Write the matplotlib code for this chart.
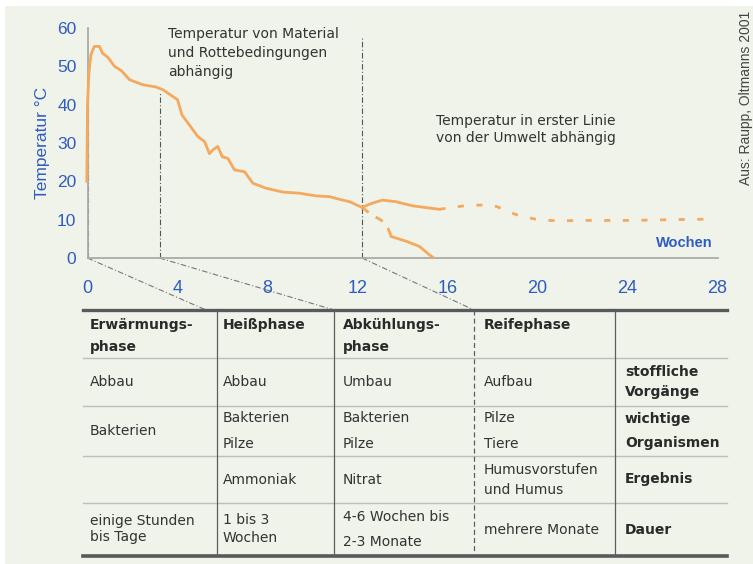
import matplotlib
matplotlib.use("Agg")
import matplotlib.pyplot as plt
from matplotlib.patches import Rectangle

# ---------------- data ----------------
main_x = [-0.03, 0.0, 0.06, 0.15, 0.3, 0.53, 0.67, 0.9, 1.2, 1.5, 1.87, 2.46, 3.05, 3.35, 4.0,
          4.2, 4.53, 4.9, 5.2, 5.42, 5.57, 5.79, 5.99, 6.24, 6.53, 6.98, 7.35, 7.94, 8.68,
          9.42, 10.16, 10.76, 11.2, 11.64, 12.2]
main_y = [20, 40, 48, 53, 55.2, 55.2, 53.4, 52.4, 50, 48.9, 46.5, 45.2, 44.6, 43.9, 41.3,
          37.3, 34.7, 31.7, 30.4, 27.2, 28.2, 29.1, 26.4, 26, 23, 22.5, 19.5, 18.2, 17.2,
          16.9, 16.2, 16, 15.3, 14.7, 13.2]

upper_x = [12.2, 12.65, 13.1, 13.7, 14.46, 15.64]
upper_y = [13.2, 14.3, 15.1, 14.7, 13.6, 12.7]

upper_dash_x = [15.64, 16.2, 17.0, 17.7, 18.2, 18.6, 19.2, 20.1, 21, 22, 23, 24, 25, 26, 27, 27.9]
upper_dash_y = [12.7, 13.2, 13.8, 13.8, 13.4, 12.3, 11.0, 9.9, 9.7, 9.8, 9.8, 9.8, 9.9, 10.0, 10.1, 10.1]

lower_dash_x = [12.2, 12.65, 13.05, 13.35, 13.5]
lower_dash_y = [13.2, 11.2, 9.9, 7.8, 5.6]

lower_x = [13.5, 14.2, 14.76, 15.2, 15.4]
lower_y = [5.6, 4.3, 3.0, 0.8, 0.0]

phase_bounds = [0.0, 3.2, 12.2]
phase_tops = [47, 43.4, 58]

x_ticks = [0, 4, 8, 12, 16, 20, 24, 28]
y_ticks = [0, 10, 20, 30, 40, 50, 60]

note_left = "Temperatur von Material\nund Rottebedingungen\nabhängig"
note_right = "Temperatur in erster Linie\nvon der Umwelt abhängig"
source = "Aus: Raupp, Oltmanns 2001"

header = ["Erwärmungs-\nphase", "Heißphase", "Abkühlungs-\nphase", "Reifephase", ""]
rows = [
    ["Abbau", "Abbau", "Umbau", "Aufbau", "stoffliche\nVorgänge"],
    ["Bakterien", "Bakterien\nPilze", "Bakterien\nPilze", "Pilze\nTiere", "wichtige\nOrganismen"],
    ["", "Ammoniak", "Nitrat", "Humusvorstufen\nund Humus", "Ergebnis"],
    ["einige Stunden\nbis Tage", "1 bis 3\nWochen", "4-6 Wochen bis\n2-3 Monate", "mehrere Monate", "Dauer"],
]

# ---------------- layout (pixels) ----------------
W, H = 753, 564
col_edges = [83, 217, 334, 474, 615, 727]
row_edges = [310, 358, 406, 456, 503, 556]
col_pad = [7, 6, 9, 10, 10]
row_gaps = [
    [20, 20, 20, 20, 20],
    [25, 25, 25, 25, 25],
    [20, 20, 20, 20, 20],
    [16, 18, 25, 20, 20],
]
diag_ends = [206, 334, 474]

BG = "#F0F3EA"
ORANGE = "#F5A95E"
BLUE = "#2F5CBF"
TXT = "#333333"

fig = plt.figure(figsize=(W / 100, H / 100), dpi=100)
fig.patch.set_facecolor("white")

ov = fig.add_axes([0, 0, 1, 1])
ov.set_xlim(0, W)
ov.set_ylim(H, 0)
ov.axis("off")
ov.add_patch(Rectangle((5, 6), W - 5, H - 6, facecolor=BG, edgecolor="none", zorder=0))

ax = fig.add_axes([87.5 / W, (H - 258) / H, 630 / W, 230 / H])
ax.patch.set_alpha(0)
ax.set_xlim(0, 28)
ax.set_ylim(0, 60)
for s in ["top", "right"]:
    ax.spines[s].set_visible(False)
for s in ["left", "bottom"]:
    ax.spines[s].set_color("#A9ABA6")
    ax.spines[s].set_linewidth(1.3)

ax.set_xticks(x_ticks)
ax.set_xticklabels([str(v) for v in x_ticks])
ax.set_yticks(y_ticks)
ax.set_yticklabels([str(v) for v in y_ticks])
ax.tick_params(axis="x", length=0, pad=16, labelsize=13, labelcolor=BLUE)
ax.tick_params(axis="y", length=0, pad=8, labelsize=12.5, labelcolor=BLUE)
for lab in ax.get_xticklabels() + ax.get_yticklabels():
    lab.set_family(["Liberation Sans", "DejaVu Sans"])

ax.set_ylabel("Temperatur °C", color=BLUE, fontsize=12.5, family=["Liberation Sans", "DejaVu Sans"],
              labelpad=5)

# curves
lw = 2.0
ax.plot(main_x, main_y, color=ORANGE, lw=lw, clip_on=False, solid_joinstyle="round", zorder=3)
ax.plot(upper_x, upper_y, color=ORANGE, lw=lw, zorder=3)
ax.plot(upper_dash_x, upper_dash_y, color=ORANGE, lw=lw, dashes=(2.2, 4.5), zorder=3)
ax.plot(lower_dash_x, lower_dash_y, color=ORANGE, lw=lw, dashes=(3, 3), zorder=3)
ax.plot(lower_x, lower_y, color=ORANGE, lw=lw, zorder=3)

# phase boundary lines
for xb, top in zip(phase_bounds, phase_tops):
    ax.plot([xb, xb], [0, top], color="#555555", lw=0.8, ls=(0, (5, 2, 1, 2)), zorder=2, clip_on=False)

ax.text(3.58, 60.3, note_left, va="top", ha="left", fontsize=10, color=TXT, linespacing=1.45,
        family="DejaVu Sans")
ax.text(15.5, 37.6, note_right, va="top", ha="left", fontsize=10, color=TXT, linespacing=1.3,
        family="DejaVu Sans")
ax.text(27.8, 3.9, "Wochen", ha="right", va="center", fontsize=10.5, color=BLUE, fontweight="bold",
        family=["Liberation Sans", "DejaVu Sans"])

# source text
fig.text(746 / W, 1 - 98 / H, source, rotation=90, ha="center", va="center", fontsize=10,
         color="#444444", family=["Liberation Sans", "DejaVu Sans"])

# diagonal connectors from phase bounds to table
fig.canvas.draw()
for xb, xe in zip(phase_bounds, diag_ends):
    dx, dy = ax.transData.transform((xb, 0))
    px, py = dx, H - dy
    ov.plot([px, xe], [py, row_edges[0]], color="#777777", lw=0.8, ls=(0, (5, 2, 1, 2)), zorder=1)

# table lines
ov.plot([col_edges[0], col_edges[-1]], [row_edges[0]] * 2, color="#555a5a", lw=2.4, zorder=2)
ov.plot([col_edges[0], col_edges[-1]], [row_edges[-1]] * 2, color="#555a5a", lw=2.6, zorder=2)
for ry in row_edges[1:-1]:
    ov.plot([col_edges[0], col_edges[-1]], [ry, ry], color="#BDBFBA", lw=1.0, zorder=1)
for i, cx in enumerate(col_edges[1:-1]):
    ls = (0, (4, 2.5)) if i == 2 else "-"
    ov.plot([cx, cx], [row_edges[0], row_edges[-1]], color="#5a5f5f", lw=0.9, ls=ls, zorder=2)

# table text
for j, txt in enumerate(header):
    lines = txt.split("\n") if txt else []
    for k, line in enumerate(lines):
        ov.text(col_edges[j] + col_pad[j], 325 + k * 21.5, line, ha="left", va="center",
                fontsize=10, fontweight="bold", color="#2a2a2a", family="DejaVu Sans")

for i, row in enumerate(rows):
    cy = (row_edges[i + 1] + row_edges[i + 2]) / 2
    for j, txt in enumerate(row):
        if not txt:
            continue
        lines = txt.split("\n")
        n = len(lines)
        gap = row_gaps[i][j]
        bold = (j == 4)
        for k, line in enumerate(lines):
            y = cy + (k - (n - 1) / 2) * gap
            ov.text(col_edges[j] + col_pad[j], y, line, ha="left", va="center", fontsize=10,
                    fontweight="bold" if bold else "normal",
                    color="#2a2a2a" if bold else TXT, family="DejaVu Sans")

fig.savefig("out.png", dpi=100, facecolor=fig.get_facecolor())
